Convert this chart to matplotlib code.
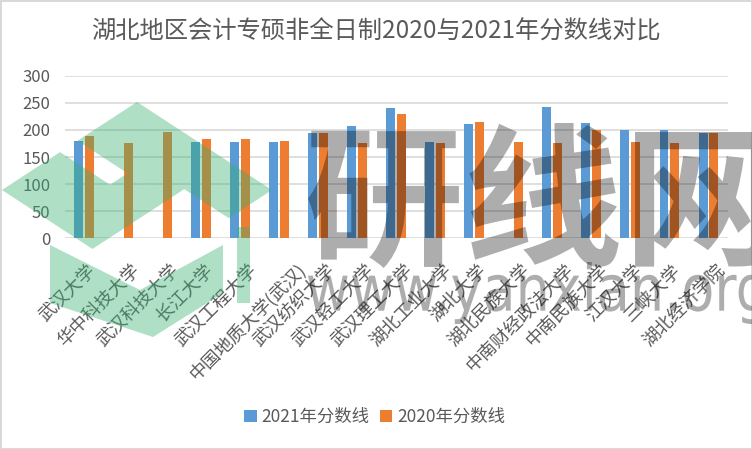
import matplotlib
matplotlib.use('Agg')
import matplotlib.pyplot as plt
import matplotlib.transforms as mtransforms
from matplotlib.patches import Polygon, PathPatch
from matplotlib.textpath import TextPath
from matplotlib.font_manager import FontProperties
import numpy as np

# 数据
schools = ['武汉大学', '华中科技大学', '武汉科技大学', '长江大学', '武汉工程大学',
           '中国地质大学(武汉)', '武汉纺织大学', '武汉轻工大学', '武汉理工大学',
           '湖北工业大学', '湖北大学', '湖北民族大学', '中南财经政法大学',
           '中南民族大学', '江汉大学', '三峡大学', '湖北经济学院']
score_2021 = [180, np.nan, np.nan, 178, 178, 178, 195, 207, 240,
              178, 210, np.nan, 242, 213, 200, 200, 195]
score_2020 = [188, 175, 196, 183, 183, 180, 195, 175, 230,
              175, 215, 178, 175, 200, 178, 175, 195]
yticks = [0, 50, 100, 150, 200, 250, 300]

W, H = 752, 449
BLUE = '#5B9BD5'
ORANGE = '#ED7D31'
TXT = '#595959'

plt.rcParams['font.family'] = ['Noto Sans CJK SC', 'DejaVu Sans']

fig = plt.figure(figsize=(W / 100, H / 100), dpi=100)
fig.patch.set_edgecolor('#d9d9d9')
fig.patch.set_linewidth(2)

ax = fig.add_axes([64.5 / W, (H - 238.3) / H, (728 - 64.5) / W, 162.6 / H])

x = np.arange(len(schools))
w = 0.23
ax.bar(x - 0.14, score_2021, w, color=BLUE, label='2021年分数线', zorder=2)
ax.bar(x + 0.14, score_2020, w, color=ORANGE, label='2020年分数线', zorder=2)

ax.set_xlim(-0.5, len(schools) - 0.5)
ax.set_ylim(0, 300)
ax.set_yticks(yticks)
ax.yaxis.grid(True, color='#d9d9d9', linewidth=1.2, zorder=0)
ax.set_axisbelow(True)
for s in ax.spines.values():
    s.set_visible(False)
ax.tick_params(axis='y', length=0, pad=10, labelsize=12, labelcolor=TXT)
ax.tick_params(axis='x', length=0, pad=21, labelsize=13, labelcolor=TXT)
ax.set_xticks(x)
ax.set_xticklabels(schools, rotation=45, ha='right', va='center',
                   rotation_mode='anchor')
# 长标签在 Excel 里略微右移
for lab in ax.get_xticklabels():
    n = len(lab.get_text())
    dx = 9 + 2.5 * (n - 4)
    offset = mtransforms.ScaledTranslation(dx / 100, 0, fig.dpi_scale_trans)
    lab.set_transform(lab.get_transform() + offset)

fig.text(0.5, (H - 32) / H, '湖北地区会计专硕非全日制2020与2021年分数线对比',
         ha='center', va='center', fontsize=17.5, color=TXT)

fig.legend(loc='center', bbox_to_anchor=(375 / W, (H - 416.7) / H), ncol=2,
           frameon=False, fontsize=12.5, labelcolor=TXT, handlelength=0.7,
           handleheight=0.7, handletextpad=0.3, columnspacing=0.6)


# 水印（像素坐标，y 向下）
def px(pts):
    return [(px_x / W, (H - px_y) / H) for px_x, px_y in pts]


def rhombus(u0, u1, v0, v1):
    L = np.array([2, 190])
    du = np.array([135, -88])
    dv = np.array([135, 88])
    pts = [L + u * du + v * dv for u, v in [(u0, v0), (u1, v0), (u1, v1), (u0, v1)]]
    return px(pts)


green = dict(facecolor='#37AF70', alpha=0.4, edgecolor='none',
             transform=fig.transFigure, zorder=5)
for piece in [rhombus(0, 0.43, 0, 0.67), rhombus(0.43, 0.56, 0.37, 0.67),
              rhombus(0.56, 1, 0, 0.67), rhombus(0.68, 1, 0.67, 1)]:
    fig.add_artist(Polygon(piece, **green))
fig.add_artist(Polygon(px([(50, 245), (140, 290), (223, 245), (223, 293),
                           (153, 337), (50, 303)]), **green))
fig.add_artist(Polygon(px([(237, 227), (250, 227), (250, 303), (237, 303)]), **green))


def fit_text(s, font, x0, y0, x1, y1):
    tp = TextPath((0, 0), s, size=100, prop=font)
    ext = tp.get_extents()
    sx = (x1 - x0) / ext.width
    sy = (y1 - y0) / ext.height
    tr = mtransforms.Affine2D().translate(-ext.x0, -ext.y0).scale(sx, sy) \
        .translate(x0, H - y1)
    fig.add_artist(PathPatch(tp, facecolor='black', alpha=0.32,
                             edgecolor='none', transform=tr, zorder=6))


fit_text('研线网', FontProperties(family='Noto Sans CJK SC', weight='bold'),
         308, 123, 770, 268)
fit_text('www.yanxian.org', FontProperties(family='DejaVu Sans'), 308, 262, 765, 324)

fig.savefig('out.png', dpi=100)
